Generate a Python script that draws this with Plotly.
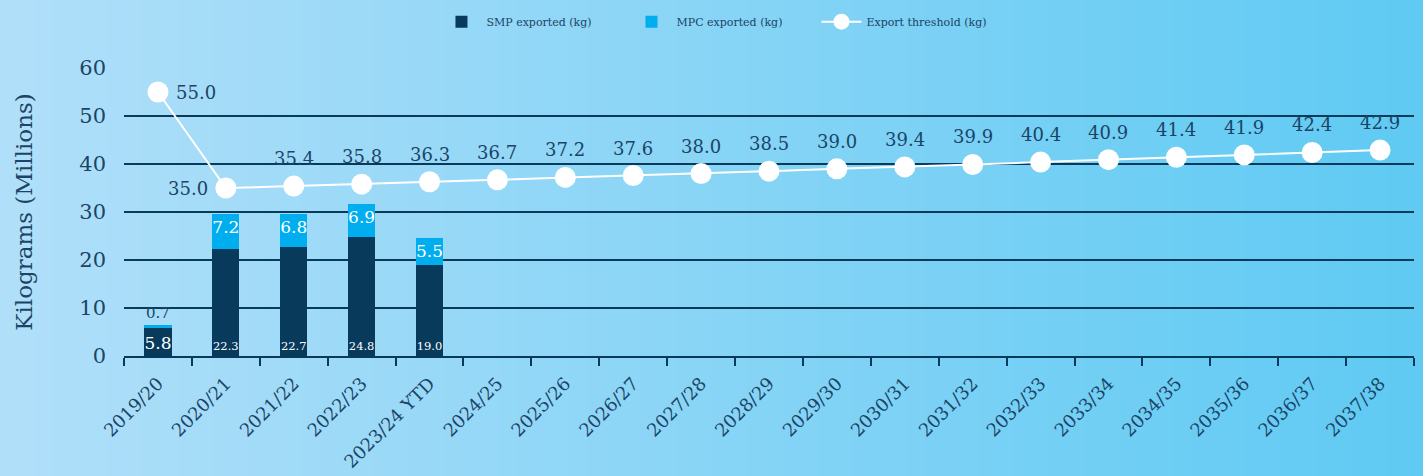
import plotly.graph_objects as go

categories = ["2019/20", "2020/21", "2021/22", "2022/23", "2023/24 YTD", "2024/25",
              "2025/26", "2026/27", "2027/28", "2028/29", "2029/30", "2030/31",
              "2031/32", "2032/33", "2033/34", "2034/35", "2035/36", "2036/37", "2037/38"]
smp_exported = [5.8, 22.3, 22.7, 24.8, 19.0]
mpc_exported = [0.7, 7.2, 6.8, 6.9, 5.5]
export_threshold = [55.0, 35.0, 35.4, 35.8, 36.3, 36.7, 37.2, 37.6, 38.0, 38.5,
                    39.0, 39.4, 39.9, 40.4, 40.9, 41.4, 41.9, 42.4, 42.9]

DARK = "#083a5c"
LIGHT = "#00aeef"
TXT = "#1b4466"
FONT = "DejaVu Serif"

fig = go.Figure()
n_bar = len(smp_exported)
fig.add_trace(go.Bar(
    x=categories[:n_bar], y=smp_exported, name="SMP exported (kg)",
    marker=dict(color=DARK, line=dict(width=0)),
    text=[f"{v:.1f}" for v in smp_exported], textposition="inside", textangle=0,
    insidetextanchor="start", constraintext="none",
    textfont=dict(color="white", size=[17] + [11.5] * (n_bar - 1), family=FONT),
    width=0.4,
))
fig.add_trace(go.Bar(
    x=categories[:n_bar], y=mpc_exported, name="MPC exported (kg)",
    marker=dict(color=LIGHT, line=dict(width=0)),
    text=[f"{v:.1f}" for v in mpc_exported], textangle=0,
    textposition=["outside"] + ["inside"] * (n_bar - 1),
    insidetextanchor="end", constraintext="none",
    textfont=dict(color=[TXT] + ["white"] * (n_bar - 1), size=[15] + [17] * (n_bar - 1), family=FONT),
    width=0.4, cliponaxis=False,
))
fig.add_trace(go.Scatter(
    x=categories, y=export_threshold, name="Export threshold (kg)",
    mode="lines+markers",
    line=dict(color="white", width=2),
    marker=dict(color="white", size=21),
    cliponaxis=False,
))

# value labels for the threshold line
for i, (c, v) in enumerate(zip(categories, export_threshold)):
    if i == 0:
        fig.add_annotation(x=c, y=v, text=f"{v:.1f}", showarrow=False, xanchor="left",
                           xshift=16, font=dict(size=18, color=TXT, family=FONT))
    elif i == 1:
        fig.add_annotation(x=c, y=v, text=f"{v:.1f}", showarrow=False, xanchor="right",
                           xshift=-16, font=dict(size=18, color=TXT, family=FONT))
    else:
        fig.add_annotation(x=c, y=v, text=f"{v:.1f}", showarrow=False, yanchor="bottom",
                           yshift=15, font=dict(size=18, color=TXT, family=FONT))

# gradient background strips (paper coords)
left_px, right_px = 124, 1414
W = right_px - left_px
c0 = (0xb1, 0xdf, 0xf9)
c1 = (0x5f, 0xca, 0xf3)
nstrip = 80
shapes = []
for i in range(nstrip):
    p0 = 1423 * i / nstrip
    p1 = 1423 * (i + 1) / nstrip + 1
    t = (i + 0.5) / nstrip
    col = "rgb(%d,%d,%d)" % tuple(round(a + (b - a) * t) for a, b in zip(c0, c1))
    shapes.append(dict(type="rect", xref="paper", yref="paper",
                       x0=(p0 - left_px) / W, x1=(p1 - left_px) / W,
                       y0=-2, y1=3, fillcolor=col, line=dict(width=0), layer="below"))

fig.update_layout(
    width=1423, height=476,
    margin=dict(l=124, r=9, t=68, b=120, autoexpand=False),
    paper_bgcolor="#8fd5f6", plot_bgcolor="rgba(0,0,0,0)",
    barmode="stack", bargap=0.6,
    shapes=shapes,
    font=dict(family=FONT, color=TXT),
    showlegend=True,
    legend=dict(orientation="h", x=0.507, xanchor="center", xref="container",
                y=0.985, yanchor="top", yref="container",
                font=dict(size=11, color=TXT), bgcolor="rgba(0,0,0,0)",
                traceorder="normal", itemwidth=40, entrywidth=135, entrywidthmode="pixels"),
)
fig.update_xaxes(
    type="category", categoryorder="array", categoryarray=categories,
    tickangle=-45, tickfont=dict(size=18, color=TXT, family=FONT),
    showline=True, linecolor=DARK, linewidth=2,
    ticks="outside", tickson="boundaries", ticklen=8, tickwidth=2, tickcolor=DARK,
    showgrid=False, range=[-0.5, len(categories) - 0.5],
    ticklabelstandoff=8, automargin=False,
)
fig.update_yaxes(
    range=[0, 60], dtick=10, showgrid=True, gridcolor=DARK, gridwidth=1.5,
    zeroline=False, showline=False,
    tickfont=dict(size=21, color=TXT, family=FONT),
    title=dict(text="Kilograms (Millions)", font=dict(size=23, color=TXT, family=FONT), standoff=40),
    ticklabelstandoff=17, automargin=False,
)
fig.write_html("out.html")
